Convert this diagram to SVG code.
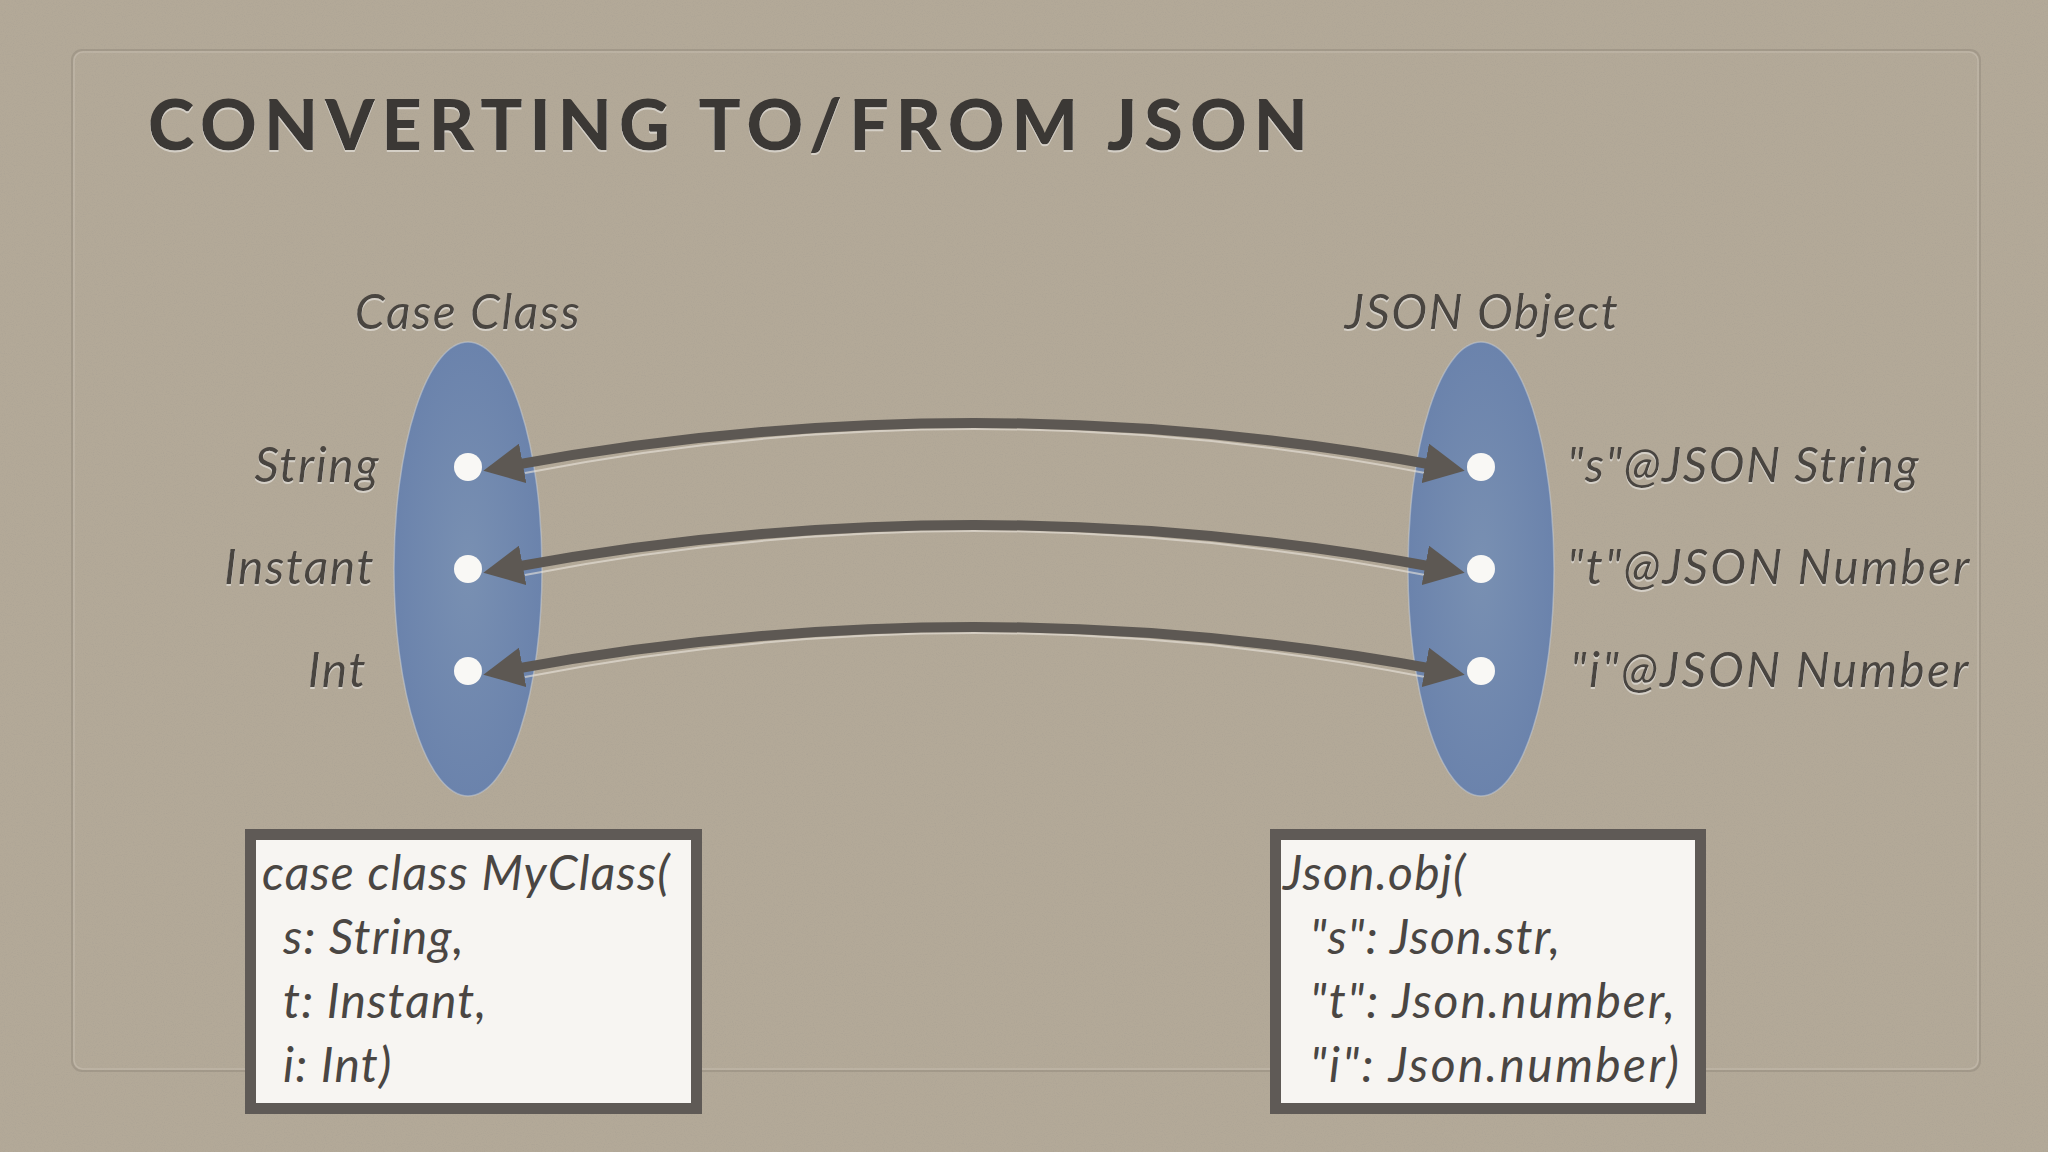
<svg xmlns="http://www.w3.org/2000/svg" width="2048" height="1152" viewBox="0 0 2048 1152">
<defs>
<style>
.lbl{font-family:Lato,"Open Sans","DejaVu Sans",sans-serif;font-style:italic;font-size:48px;letter-spacing:1.5px;fill:#4a4541}
.code{font-family:Lato,"Open Sans","DejaVu Sans",sans-serif;font-style:italic;font-size:48px;letter-spacing:1.2px;fill:#4a4643}
.title{font-family:Lato,"Open Sans","DejaVu Sans",sans-serif;font-weight:900;font-size:70px;fill:#3b3734}
.set{fill:url(#blob);stroke:#c9cfd8;stroke-opacity:0.5;stroke-width:1.5}
.dot{fill:#f9f8f5}
.box{fill:#f7f5f2;stroke:#5f5a56;stroke-width:11}
.arr{fill:none;stroke:#5d5853;stroke-width:10;marker-start:url(#ah);marker-end:url(#ah)}
.hl{fill:none;stroke:#ebe6dd;stroke-opacity:0.6;stroke-width:2}
</style>
<filter id="noise" x="0" y="0" width="100%" height="100%">
<feTurbulence type="fractalNoise" baseFrequency="0.9" numOctaves="2" seed="3" result="n"/>
<feColorMatrix in="n" type="matrix" values="0 0 0 0 0.35  0 0 0 0 0.32  0 0 0 0 0.28  0 0 0 1.2 -0.55"/>
<feComposite in2="SourceGraphic" operator="in"/>
</filter>
<filter id="emb" x="-5%" y="-20%" width="110%" height="140%">
<feOffset in="SourceAlpha" dx="0" dy="2" result="o"/>
<feFlood flood-color="#ffffff" flood-opacity="0.45"/>
<feComposite in2="o" operator="in" result="w"/>
<feMerge><feMergeNode in="w"/><feMergeNode in="SourceGraphic"/></feMerge>
</filter>
<radialGradient id="blob" cx="50%" cy="50%" r="50%">
<stop offset="0" stop-color="#7990b2"/>
<stop offset="1" stop-color="#6b83ac"/>
</radialGradient>
<marker id="ah" markerUnits="userSpaceOnUse" viewBox="0 0 40 40" markerWidth="40" markerHeight="40" refX="20" refY="20" orient="auto-start-reverse">
<path d="M0,0 L40,20 L0,40 Z" fill="#5d5853"/>
</marker>
</defs>

<g id="background">
<rect x="0" y="0" width="2048" height="1152" fill="#b3a998"/>
<rect x="0" y="0" width="2048" height="1152" fill="#000" filter="url(#noise)" opacity="0.5"/>
<rect x="72" y="50" width="1908" height="1021" rx="10" fill="none" stroke="#8f8577" stroke-opacity="0.45" stroke-width="2"/>
<rect x="74" y="52" width="1904" height="1017" rx="9" fill="none" stroke="#d6cfc3" stroke-opacity="0.35" stroke-width="1.5"/>
</g>

<g id="title" filter="url(#emb)">
<text class="title" x="148" y="150" textLength="1160" lengthAdjust="spacing">CONVERTING TO/FROM JSON</text>
</g>

<g id="case-class-set">
<ellipse class="set" cx="468" cy="569" rx="74" ry="227"/>
<text class="lbl" x="468" y="329" text-anchor="middle" filter="url(#emb)">Case Class</text>
</g>

<g id="json-object-set">
<ellipse class="set" cx="1481" cy="569" rx="73" ry="227"/>
<text class="lbl" x="1482" y="329" text-anchor="middle" filter="url(#emb)">JSON Object</text>
</g>

<g id="connectors">
<path class="hl" d="M525,473 Q974,385 1425,473"/>
<path class="hl" d="M525,575 Q974,487 1425,575"/>
<path class="hl" d="M525,677 Q974,589 1425,677"/>
<path class="arr" d="M503,467 Q974,379 1445,467"/>
<path class="arr" d="M503,569 Q974,481 1445,569"/>
<path class="arr" d="M503,671 Q974,583 1445,671"/>
</g>

<g id="field-string">
<circle class="dot" cx="468" cy="467" r="14"/>
<text class="lbl" x="380" y="482" text-anchor="end" filter="url(#emb)">String</text>
</g>
<g id="field-instant">
<circle class="dot" cx="468" cy="569" r="14"/>
<text class="lbl" x="375" y="584" text-anchor="end" filter="url(#emb)">Instant</text>
</g>
<g id="field-int">
<circle class="dot" cx="468" cy="671" r="14"/>
<text class="lbl" x="367" y="687" text-anchor="end" filter="url(#emb)">Int</text>
</g>

<g id="json-s">
<circle class="dot" cx="1481" cy="467" r="14"/>
<text class="lbl" x="1567" y="482" filter="url(#emb)" textLength="353" lengthAdjust="spacing">"s"@JSON String</text>
</g>
<g id="json-t">
<circle class="dot" cx="1481" cy="569" r="14"/>
<text class="lbl" x="1567" y="584" filter="url(#emb)" textLength="404" lengthAdjust="spacing">"t"@JSON Number</text>
</g>
<g id="json-i">
<circle class="dot" cx="1481" cy="671" r="14"/>
<text class="lbl" x="1570" y="687" filter="url(#emb)" textLength="400" lengthAdjust="spacing">"i"@JSON Number</text>
</g>

<g id="case-class-code">
<rect class="box" x="250.5" y="834.5" width="446" height="274"/>
<text class="code" x="262" y="890">case class MyClass(</text>
<text class="code" x="283" y="954">s: String,</text>
<text class="code" x="283" y="1018">t: Instant,</text>
<text class="code" x="283" y="1082">i: Int)</text>
</g>

<g id="json-code">
<rect class="box" x="1275.5" y="834.5" width="425" height="274"/>
<text class="code" x="1283" y="890">Json.obj(</text>
<text class="code" x="1310" y="954">"s": Json.str,</text>
<text class="code" x="1310" y="1018" textLength="366" lengthAdjust="spacing">"t": Json.number,</text>
<text class="code" x="1310" y="1082" textLength="370" lengthAdjust="spacing">"i": Json.number)</text>
</g>
</svg>
